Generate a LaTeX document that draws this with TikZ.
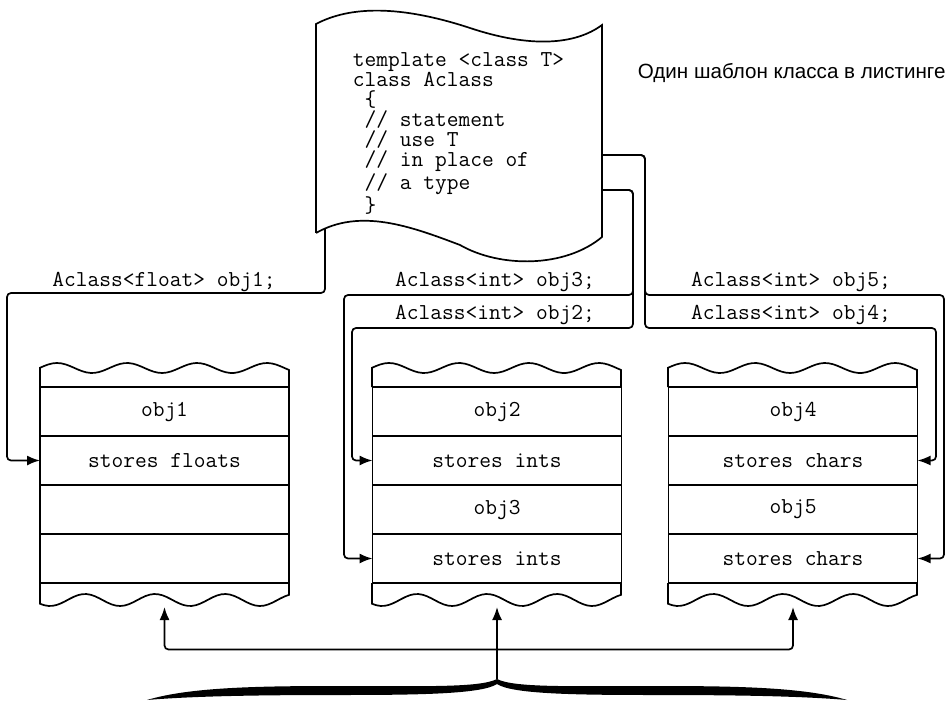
\documentclass[tikz,border=0pt]{standalone}
\usepackage{fontspec}
\setmainfont{Liberation Sans}
\setsansfont{Liberation Sans}
\usepackage{tikz}
\usetikzlibrary{arrows.meta,positioning,calc}

\begin{document}
\begin{tikzpicture}[x=0.5pt,y=-0.5pt,>={Latex[length=6.5pt,width=5pt]},line width=0.85pt,node distance=0pt]
\tikzstyle{row}=[draw,outer sep=0pt,inner sep=0pt,minimum width=124.5pt,minimum height=24.5pt,font=\ttfamily\fontsize{11.4}{10}\selectfont]
\tikzstyle{lbl}=[anchor=base,inner sep=0pt,font=\ttfamily\fontsize{11.4}{10}\selectfont]
\tikzstyle{wire}=[->,rounded corners=2pt]
\useasboundingbox (0,0) rectangle (946,705);
% the listing
\draw (316,233) -- (316,24) .. controls (350,6) and (400,5) .. (470,28) .. controls (530,48) and (575,45) .. (602,25) -- (602,237) .. controls (565,268) and (500,268) .. (460,245) .. controls (410,226) and (360,208) .. (316,233);
\node[anchor=north west,align=left,inner sep=0pt,font=\ttfamily\fontsize{11.4}{10}\selectfont] (code) at (352,52) {template <class T>\\class Aclass\\~\{\\~// statement\\~// use T\\~// in place of\\~// a type\\~\}};
\node[anchor=base west,inner sep=0pt,font=\sffamily\fontsize{10.3}{11}\selectfont] (title) at (637,79) {Один шаблон класса в листинге};
\coordinate (s1) at (325,229);
\coordinate (s2) at (602,155);
\coordinate (s3) at (602,190);
% objects in memory
\node[row] (a1) at (164.5,411.5) {obj1};
\node[row,below=of a1] (a2) {stores floats};
\node[row,below=of a2] (a3) {};
\node[row,below=of a3] (a4) {};
\node[row] (b1) at (497,411.5) {obj2};
\node[row,below=of b1] (b2) {stores ints};
\node[row,below=of b2] (b3) {obj3};
\node[row,below=of b3] (b4) {stores ints};
\node[row] (c1) at (793,411.5) {obj4};
\node[row,below=of c1] (c2) {stores chars};
\node[row,below=of c2] (c3) {obj5};
\node[row,below=of c3] (c4) {stores chars};
\foreach \bx in {40,372,668}{
  \draw (\bx,387) -- (\bx,373) -- plot[domain=0:249,samples=60] ({\bx+\x},{368-5*cos((\x-17)*5.142857)}) -- ({\bx+249},387);
  \draw (\bx,583) -- plot[domain=0:249,samples=60] ({\bx+\x},{600+6*cos((\x-10)*5.142857)}) -- ({\bx+249},583);
}
% declarations
\node[lbl] (l1) at (164,287) {Aclass<float> obj1;};
\node[lbl] (l3) at (495,287) {Aclass<int> obj3;};
\node[lbl] (l2) at (495,320) {Aclass<int> obj2;};
\node[lbl] (l5) at (791,287) {Aclass<int> obj5;};
\node[lbl] (l4) at (791,320) {Aclass<int> obj4;};
\draw[wire] (s1) |- (7,293) |- (a2.west);
\draw[wire] (s3) -| (633,295) -- (344,295) |- (b4.west);
\draw[wire] (s3) -| (633,328) -- (352,328) |- (b2.west);
\draw[wire] (s2) -| (645,295) -- (944,295) |- (c4.east);
\draw[wire] (s2) -| (645,328) -- (936,328) |- (c2.east);
% one template, many objects
\coordinate (hub) at ($(b4.south)+(0,66.5)$);
\coordinate (tip) at ($(b4.south)+(0,96)$);
\draw[->] (tip) -- ($(b4.south)+(0,24)$);
\draw[wire] (hub) -| ($(a4.south)+(0,24)$);
\draw[wire] (hub) -| ($(c4.south)+(0,24)$);
\fill (147,700) .. controls (190,687) and (260,686) .. (340,686) .. controls (420,686) and (480,688) .. (497,679) .. controls (514,688) and (574,686) .. (654,686) .. controls (734,686) and (804,687) .. (847,700) .. controls (800,696) and (734,695) .. (654,695) .. controls (574,695) and (512,694) .. (497,684) .. controls (482,694) and (420,695) .. (340,695) .. controls (260,695) and (194,696) .. (147,700) -- cycle;
\end{tikzpicture}
\end{document}
